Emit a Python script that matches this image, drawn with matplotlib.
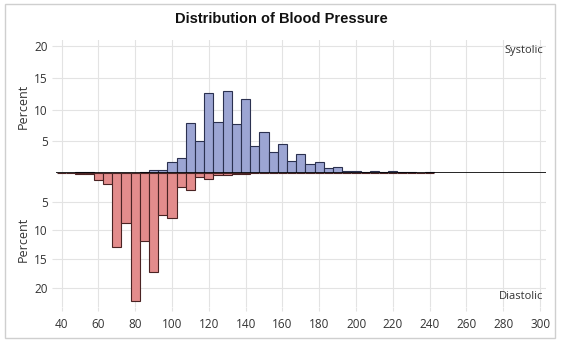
import numpy as np
import matplotlib.pyplot as plt
from matplotlib.patches import Rectangle

plt.rcParams['font.family'] = ['Open Sans', 'DejaVu Sans']

# bin centers (width 5)
bins = np.arange(40, 245, 5)

# percent per bin
systolic = [0.05, 0.05, 0.1, 0.1, 0, 0, 0, 0, 0.05, 0.1,
            0.4, 0.4, 1.8, 2.3, 7.9, 5.0, 12.6, 8.1, 13.0, 7.7,
            11.7, 4.25, 6.45, 3.35, 4.6, 1.9, 3.0, 1.5, 1.7, 0.75,
            0.9, 0.35, 0.35, 0.15, 0.3, 0.2, 0.35, 0.1, 0.15, 0, 0.15]
diastolic = [0.05, 0.05, 0.2, 0.2, 1.3, 1.9, 12.9, 8.8, 22.3, 11.8,
             17.3, 7.4, 7.8, 2.5, 2.9, 0.7, 1.0, 0.3, 0.3, 0.1,
             0.15, 0, 0, 0, 0, 0, 0, 0, 0, 0,
             0, 0, 0, 0, 0, 0, 0, 0, 0, 0, 0]

xticks = np.arange(40, 301, 20)
yticks = [5, 10, 15, 20]

fig = plt.figure(figsize=(5.62, 3.43), dpi=100)
fig.patches.append(Rectangle((0.009, 0.015), 0.978, 0.972, transform=fig.transFigure,
                             fill=False, edgecolor='#cfcfcf', linewidth=1))

ax1 = fig.add_axes([0.0996, 0.4956, 0.8719, 0.3878])
ax2 = fig.add_axes([0.0996, 0.1064, 0.8719, 0.3892])

grid_c = '#e3e3e3'
for ax in (ax1, ax2):
    ax.set_xlim(36.9, 303.2)
    ax.set_xticks(xticks)
    ax.set_yticks(yticks)
    ax.grid(True, color=grid_c, linewidth=0.8)
    ax.set_axisbelow(True)
    for s in ax.spines.values():
        s.set_visible(False)
    ax.tick_params(axis='both', length=3, color=grid_c, labelsize=8.5,
                   labelcolor='#333333', pad=3)
    ax.set_ylabel('Percent', fontsize=9, color='#333333', labelpad=3)

ax1.bar(bins, systolic, width=5, color='#9ca5d3', edgecolor='#2b3150', linewidth=0.8)
ax1.set_ylim(0, 21.0)
ax1.tick_params(axis='x', bottom=False, labelbottom=False)
ax1.axhline(0, color='black', linewidth=1.2, zorder=5)
ax1.text(0.995, 0.965, 'Systolic', transform=ax1.transAxes, ha='right', va='top',
         fontsize=8, color='#333333')

ax2.bar(bins, diastolic, width=5, color='#e38c8c', edgecolor='#4a2323', linewidth=0.8)
ax2.set_ylim(23.3, 0)
ax2.tick_params(axis='x', pad=5)
ax2.text(0.995, 0.035, 'Diastolic', transform=ax2.transAxes, ha='right', va='bottom',
         fontsize=8, color='#333333')

fig.suptitle('Distribution of Blood Pressure', y=0.965, fontsize=10.5, fontweight='bold',
             color='#111111', family=['Liberation Sans', 'DejaVu Sans'])

fig.savefig('out.png', dpi=100)
